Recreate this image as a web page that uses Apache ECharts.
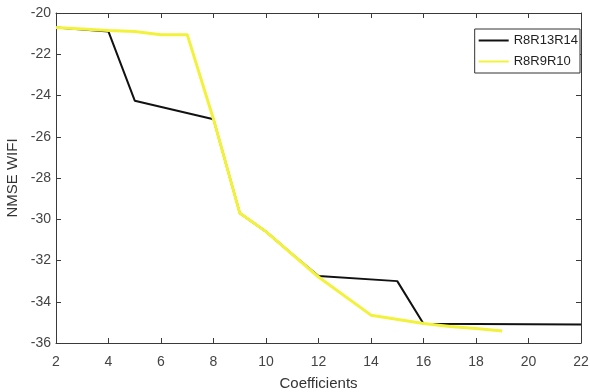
<!DOCTYPE html>
<html>
<head>
<meta charset="utf-8">
<script src="https://cdn.jsdelivr.net/npm/echarts@6/dist/echarts.min.js"></script>
<style>
html, body { margin: 0; padding: 0; background: #fff; }
#chart { width: 590px; height: 392px; }
</style>
</head>
<body>
<div id="chart"></div>
<script>
// R8R13R14 (black)
var aBlackX = [2, 4, 5, 8, 9, 10, 11, 12, 15, 16, 22];
var aBlackY = [-20.7, -20.9, -24.25, -25.15, -29.7, -30.6, -31.7, -32.75, -33.0, -35.07, -35.1];
// R8R9R10 (yellow)
var aYellowX = [2, 4, 5, 6, 7, 8, 9, 10, 11, 12, 14, 16, 17, 18, 19];
var aYellowY = [-20.7, -20.85, -20.9, -21.05, -21.05, -25.15, -29.7, -30.6, -31.7, -32.8, -34.65, -35.05, -35.2, -35.3, -35.42];
var aSeriesNames = ['R8R13R14', 'R8R9R10'];

function ZipXY(aX, aY) {
    var aOut = [];
    for (var i = 0; i < aX.length; i++) {
        aOut.push([aX[i], aY[i]]);
    }
    return aOut;
}

var sAxisColor = '#3a3a3a';
var sFont = 'Liberation Sans, Arial, sans-serif';

var jOption = {
    animation: false,
    backgroundColor: '#fff',
    grid: {left: 56, right: 9, top: 13, bottom: 49, outerBoundsMode: 'none', containLabel: false},
    legend: {
        right: 10, top: 29,
        orient: 'vertical',
        itemWidth: 30, itemHeight: 10, itemGap: 8,
        padding: [5, 2, 5, 4],
        borderColor: '#333', borderWidth: 1,
        backgroundColor: '#fff',
        textStyle: {fontFamily: sFont, fontSize: 13, color: '#222'},
        icon: 'path://M0,4L30,4L30,6L0,6Z',
        data: aSeriesNames
    },
    xAxis: [
        {
            type: 'value', min: 2, max: 22, interval: 2,
            name: 'Coefficients', nameLocation: 'middle', nameGap: 33,
            nameTextStyle: {fontFamily: sFont, fontSize: 15, color: '#333'},
            axisLine: {lineStyle: {color: sAxisColor, width: 1}},
            axisTick: {inside: true, length: 5, lineStyle: {color: sAxisColor}},
            axisLabel: {fontFamily: sFont, fontSize: 14, color: '#444', margin: 12},
            splitLine: {show: false}
        },
        {
            type: 'value', position: 'top', min: 2, max: 22, interval: 2,
            axisLine: {show: true, lineStyle: {color: sAxisColor, width: 1}},
            axisTick: {inside: true, length: 5, lineStyle: {color: sAxisColor}},
            axisLabel: {show: false},
            splitLine: {show: false}
        }
    ],
    yAxis: [
        {
            type: 'value', min: -36, max: -20, interval: 2,
            name: 'NMSE WIFI', nameLocation: 'middle', nameGap: 29,
            nameTextStyle: {fontFamily: sFont, fontSize: 15, color: '#333'},
            axisLine: {show: true, lineStyle: {color: sAxisColor, width: 1}},
            axisTick: {show: true, inside: true, length: 5, lineStyle: {color: sAxisColor}},
            axisLabel: {fontFamily: sFont, fontSize: 14, color: '#444', margin: 5},
            splitLine: {show: false}
        },
        {
            type: 'value', position: 'right', min: -36, max: -20, interval: 2,
            axisLine: {show: true, lineStyle: {color: sAxisColor, width: 1}},
            axisTick: {show: true, inside: true, length: 5, lineStyle: {color: sAxisColor}},
            axisLabel: {show: false},
            splitLine: {show: false}
        }
    ],
    series: [
        {
            name: aSeriesNames[0],
            type: 'line',
            showSymbol: false,
            color: '#111',
            lineStyle: {width: 2, color: '#111'},
            data: ZipXY(aBlackX, aBlackY)
        },
        {
            name: aSeriesNames[1],
            type: 'line',
            showSymbol: false,
            color: '#f2f23c',
            lineStyle: {width: 3, color: '#f2f23c'},
            data: ZipXY(aYellowX, aYellowY)
        }
    ]
};

var myChart = echarts.init(document.getElementById('chart'), null, {renderer: 'canvas'});
myChart.setOption(jOption);
</script>
</body>
</html>
